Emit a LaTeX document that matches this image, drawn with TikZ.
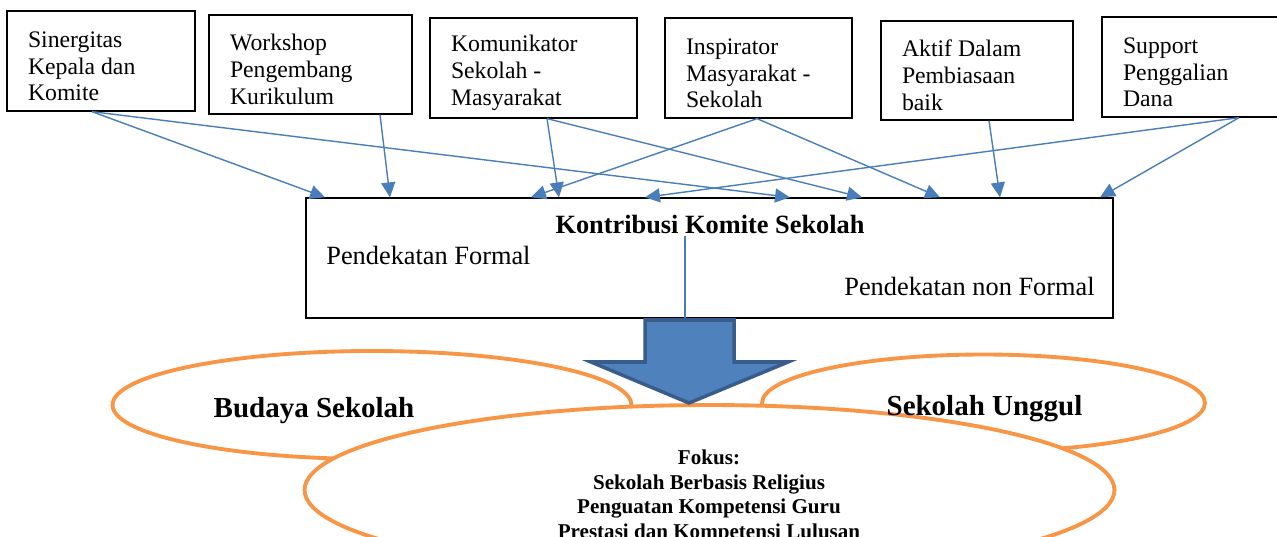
\documentclass[tikz,border=0pt]{standalone}
\usepackage{fontspec}
\setmainfont{Liberation Serif}
\usepackage{tikz}
\usetikzlibrary{shapes.geometric, arrows.meta}
\usepackage{color}

\definecolor{garisbiru}{HTML}{4A7EBB}
\definecolor{isibiru}{HTML}{4F81BD}
\definecolor{tepibiru}{HTML}{385D8A}
\definecolor{oranye}{HTML}{F79646}

\tikzset{
  kotak/.style={draw, line width=0.75pt, align=flush left, inner xsep=0.42cm, font=\fontsize{13.5}{15.3}\selectfont},
  kotakteks/.style={kotak, execute at begin node={\rule{0pt}{15pt}}},
  panah/.style={draw=garisbiru, line width=0.8pt, -{Triangle[length=8.5pt, width=8pt]}},
  elips/.style={ellipse, draw=oranye, line width=2.2pt, inner sep=0pt},
  judulelips/.style={font=\fontsize{16.5}{20}\selectfont\bfseries, inner sep=0pt},
  teks/.style={font=\fontsize{15}{18}\selectfont, inner sep=0pt},
  blokpanah/.style={fill=isibiru, draw=tepibiru, line width=2pt, line join=miter}
}

\begin{document}
\begin{tikzpicture}[x=0.02cm, y=-0.02cm]
  \useasboundingbox (0,0) rectangle (1277,537);
  \clip (0,0) rectangle (1277,537);

  % Draw the six boxes on top
  \node[kotakteks, minimum width=3.76cm, text width=2.92cm, minimum height=2cm] (sinergi) at (101,61) {Sinergitas\\Kepala dan\\Komite};
  \node[kotakteks, minimum width=4.06cm, text width=3.22cm, minimum height=1.98cm] (workshop) at (310.5,64.5) {Workshop\\Pengembang\\Kurikulum};
  \node[kotakteks, minimum width=4.14cm, text width=3.30cm, minimum height=2cm] (komunikator) at (533.5,68) {Komunikator\\Sekolah -\\Masyarakat};
  \node[kotakteks, minimum width=3.74cm, text width=2.90cm, minimum height=2cm] (inspirator) at (758.5,68) {Inspirator\\Masyarakat -\\Sekolah};
  \node[kotakteks, minimum width=3.84cm, text width=3.00cm, minimum height=1.98cm] (aktif) at (977,70.5) {Aktif Dalam\\Pembiasaan\\baik};
  \node[kotakteks, minimum width=3.80cm, text width=2.96cm, minimum height=2cm] (support) at (1197,67) {Support\\Penggalian\\Dana};

  % Draw the middle box with its texts
  \node[kotak, minimum width=16.14cm, minimum height=2.4cm] (kontribusi) at (709.5,258) {};
  \node[teks, font=\fontsize{15}{18}\selectfont\bfseries, anchor=base] (judul) at (710,233) {Kontribusi Komite Sekolah};
  \node[teks, anchor=base west] (formal) at (326,264) {Pendekatan Formal};
  \node[teks, anchor=base east] (nonformal) at (1095,295) {Pendekatan non Formal};
  \coordinate (garisatas) at (685,236);
  \draw[garisbiru, line width=0.7pt] (garisatas) -- (garisatas |- kontribusi.south);

  % Draw arrows from the boxes to the middle box
  \draw[panah] (92,0 |- sinergi.south) -- (325,0 |- kontribusi.north);
  \draw[panah] (92,0 |- sinergi.south) -- (790,0 |- kontribusi.north);
  \draw[panah] (380,0 |- workshop.south) -- (390,0 |- kontribusi.north);
  \draw[panah] (547,0 |- komunikator.south) -- (559,0 |- kontribusi.north);
  \draw[panah] (547,0 |- komunikator.south) -- (862,0 |- kontribusi.north);
  \draw[panah] (757,0 |- inspirator.south) -- (531,0 |- kontribusi.north);
  \draw[panah] (757,0 |- inspirator.south) -- (940,0 |- kontribusi.north);
  \draw[panah] (989,0 |- aktif.south) -- (1000,0 |- kontribusi.north);
  \draw[panah] (1239,0 |- support.south) -- (645,0 |- kontribusi.north);
  \draw[panah] (1239,0 |- support.south) -- (1100,0 |- kontribusi.north);

  % Draw the three ellipses
  \node[elips, minimum width=10.38cm, minimum height=2.16cm] (budaya) at (372,405) {};
  \node[elips, minimum width=8.86cm, minimum height=1.94cm] (unggul) at (983.5,403) {};
  \node[elips, fill=white, minimum width=16.2cm, minimum height=3.4cm] (fokus) at (709.5,490) {};

  % Draw the big arrow down
  \draw[blokpanah] (645,320) -- (734,320) -- (734,362) -- (788,362) -- (689,403) -- (591,362) -- (645,362) -- cycle;

  % Texts in the ellipses
  \node[judulelips, anchor=base] (teksbudaya) at (314,417) {Budaya Sekolah};
  \node[judulelips, anchor=base] (teksunggul) at (984.5,415) {Sekolah Unggul};
  \node[font=\fontsize{12}{13.9}\selectfont\bfseries, align=center, anchor=north, inner sep=0pt] (teksfokus) at (709,450) {Fokus:\\Sekolah Berbasis Religius\\Penguatan Kompetensi Guru\\Prestasi dan Kompetensi Lulusan};

\end{tikzpicture}
\end{document}
